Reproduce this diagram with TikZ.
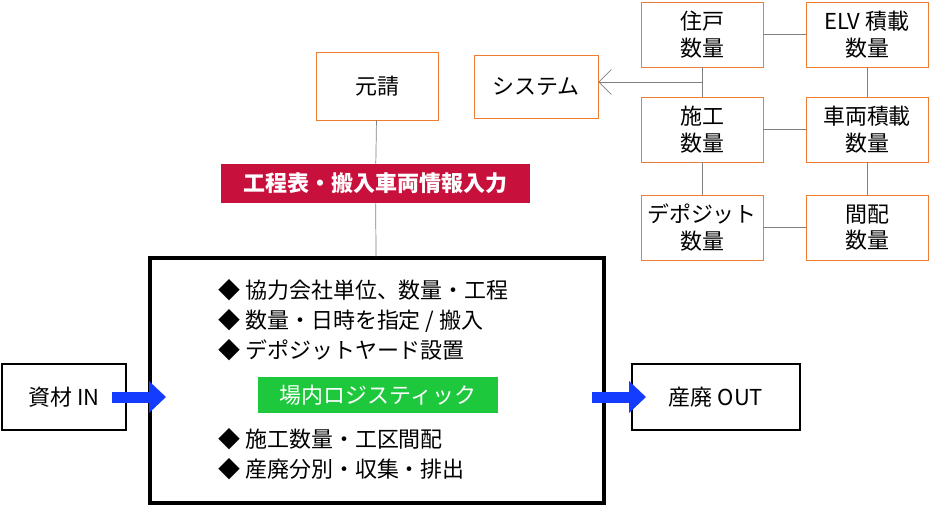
\documentclass[tikz,border=0pt]{standalone}
\usepackage{fontspec}
\setmainfont{Noto Sans CJK JP}
\usetikzlibrary{positioning, arrows.meta, calc}
\definecolor{boxorange}{RGB}{237,125,49}
\definecolor{labelred}{RGB}{200,16,60}
\definecolor{labelgreen}{RGB}{30,200,60}
\definecolor{arrowblue}{RGB}{20,60,255}

\begin{document}
\begin{tikzpicture}[x=0.02cm, y=-0.02cm, font=\fontsize{12.5}{15}\selectfont,
	qtybox/.style={draw=boxorange, fill=white, minimum width=2.44cm, minimum height=1.3cm, align=center, inner sep=1pt},
	endbox/.style={draw, line width=1.2pt, fill=white, minimum height=1.32cm, align=center},
	tag/.style={text=white, minimum height=0.78cm, inner sep=2pt},
	link/.style={draw=gray, thin},
	flow/.style={arrowblue, line width=0.22cm, -{Triangle[length=0.34cm, width=0.62cm]}}]
	\useasboundingbox (0,0) rectangle (930,507);
	% Quantity boxes
	\node[qtybox] (unit) at (702,34.5) {住戸\\数量};
	\node[qtybox] (elv) at (867,34.5) {ELV 積載\\数量};
	\node[qtybox] (work) at (702,129.5) {施工\\数量};
	\node[qtybox] (truck) at (867,129.5) {車両積載\\数量};
	\node[qtybox] (depot) at (702,227.5) {デポジット\\数量};
	\node[qtybox] (dist) at (867,227.5) {間配\\数量};
	\node[qtybox, minimum width=2.48cm, minimum height=1.26cm] (system) at (536,86.5) {システム};
	\node[qtybox, minimum width=2.44cm, minimum height=1.36cm] (prime) at (377,86) {元請};
	% Main box
	\node[draw, line width=2pt, minimum width=9.08cm, minimum height=4.9cm] (site) at (377,380.5) {};
	\node[fill=labelred, tag, minimum width=6.18cm] (input) at (375.5,183.5) {\bfseries 工程表・搬入車両情報入力};
	\node[fill=labelgreen, tag, minimum width=4.8cm, minimum height=0.72cm] (logi) at (378,395) {場内ロジスティック};
	\node[align=left, anchor=north west, inner sep=0pt, font=\fontsize{12.5}{17}\selectfont] (plan) at (218,279) {◆ 協力会社単位、数量・工程\\◆ 数量・日時を指定 / 搬入\\◆ デポジットヤード設置};
	\node[align=left, anchor=north west, inner sep=0pt, font=\fontsize{12.5}{17}\selectfont] (rest) at (218,428) {◆ 施工数量・工区間配\\◆ 産廃分別・収集・排出};
	\node[endbox, minimum width=2.48cm] (in) at (64,397) {資材 IN};
	\node[endbox, minimum width=3.36cm] (out) at (716,397) {産廃 OUT};
	% Connectors
	\draw[link] (prime) -- (input);
	\draw[link] (input) -- (site);
	\draw[link] (unit) -- (work);
	\draw[link] (work) -- (depot);
	\draw[link] (elv) -- (truck);
	\draw[link] (truck) -- (dist);
	\draw[link] (unit) -- (elv);
	\draw[link] (work) -- (truck);
	\draw[link] (depot) -- (dist);
	\coordinate (tap) at (702,82);
	\draw[link, -{Straight Barb[length=0.25cm, width=0.5cm]}] (tap) -- (system.east |- tap);
	\draw[flow] (112,397) -- (166,397);
	\draw[flow] (592,397) -- (646,397);
\end{tikzpicture}
\end{document}
